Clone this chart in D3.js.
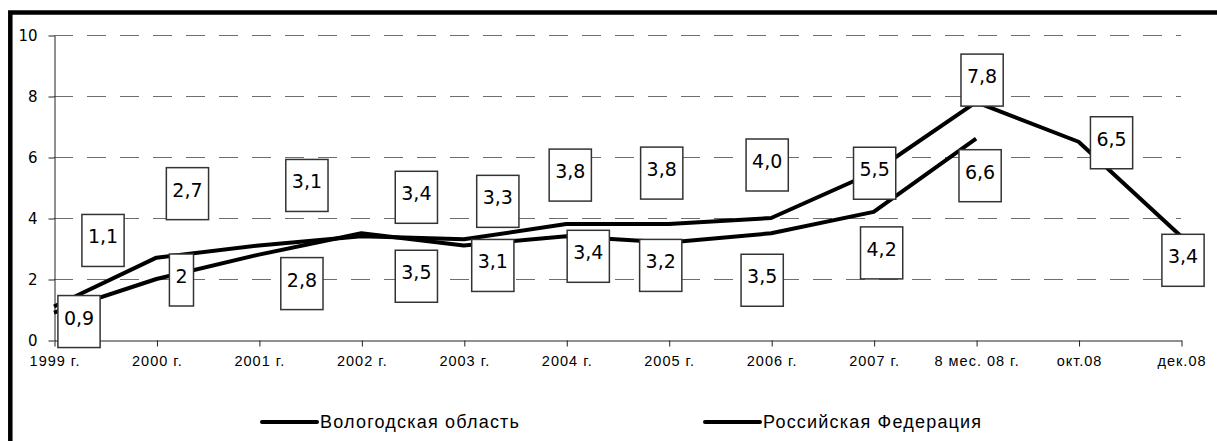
<!DOCTYPE html>
<html>
<head>
<meta charset="utf-8">
<script src="https://cdn.jsdelivr.net/npm/d3@7"></script>
<style>
  body { margin: 0; background: #fff; }
  svg { display: block; }
</style>
</head>
<body>
<svg width="1217" height="441"></svg>
<script>
const categories = ["1999 г.", "2000 г.", "2001 г.", "2002 г.", "2003 г.", "2004 г.",
  "2005 г.", "2006 г.", "2007 г.", "8 мес. 08 г.", "окт.08", "дек.08"];
const vologda = [1.1, 2.7, 3.1, 3.4, 3.3, 3.8, 3.8, 4.0, 5.5, 7.8, 6.5, 3.4];
const russia = [0.9, 2.0, 2.8, 3.5, 3.1, 3.4, 3.2, 3.5, 4.2, 6.6];
const vologdaLabels = ["1,1", "2,7", "3,1", "3,4", "3,3", "3,8", "3,8", "4,0", "5,5", "7,8", "6,5", "3,4"];
const russiaLabels = ["0,9", "2", "2,8", "3,5", "3,1", "3,4", "3,2", "3,5", "4,2", "6,6"];
const yTicks = [0, 2, 4, 6, 8, 10];
const seriesNames = ["Вологодская область", "Российская Федерация"];

// where each label box sits, relative to its point (px)
const vologdaOffsets = [[49, -66], [31, -64], [48, -60], [55, -39], [34, -38], [4, -49],
  [-7, -51], [-4, -53], [1, 1], [6, -22], [33, 1], [2, 24]];
const russiaOffsets = [[25, 9], [25, 1], [43, 29], [55, 43], [29, 20], [22, 20],
  [-8, 23], [-9, 47], [8, 41], [4, 37]];

const svg = d3.select("svg");

// outer frame
svg.append("rect")
  .attr("x", 10.3).attr("y", 12.5)
  .attr("width", 1400).attr("height", 600)
  .attr("fill", "none")
  .attr("stroke", "#000")
  .attr("stroke-width", 4.5);

const x = d3.scalePoint().domain(categories).range([54, 1181]);
const y = d3.scaleLinear().domain([0, 10]).range([340, 35]);

// dashed grid
svg.append("g")
  .selectAll("line")
  .data(yTicks.filter((t) => t > 0))
  .enter()
  .append("line")
  .attr("x1", 54).attr("x2", 1181)
  .attr("y1", (d) => y(d) + 0.5).attr("y2", (d) => y(d) + 0.5)
  .attr("stroke", "#6e6e6e")
  .attr("stroke-width", 1)
  .attr("stroke-dasharray", "19,14");

const yAxis = d3.axisLeft(y).tickValues(yTicks).tickSize(6).tickSizeOuter(0).tickPadding(11).tickFormat(d3.format("d"));
const xAxis = d3.axisBottom(x).tickSize(6).tickSizeOuter(0).tickPadding(9);

const yAxisGroup = svg.append("g").attr("transform", "translate(54.5,0.5)").call(yAxis);
yAxisGroup.selectAll("text")
  .attr("font-family", "DejaVu Sans").attr("font-size", 15).attr("fill", "#000");

const xAxisGroup = svg.append("g").attr("transform", "translate(0.5,340.5)").call(xAxis);
xAxisGroup.selectAll("text")
  .attr("font-family", "Liberation Sans").attr("font-size", 14.5)
  .attr("letter-spacing", 1).attr("fill", "#000");

svg.selectAll(".domain, .tick line").attr("stroke", "#222");

// lines
const line = d3.line()
  .x((d, i) => x(categories[i]))
  .y((d) => y(d));

[vologda, russia].forEach((series) => {
  svg.append("path")
    .datum(series)
    .attr("d", line)
    .attr("fill", "none")
    .attr("stroke", "#000")
    .attr("stroke-width", 4)
    .attr("stroke-linejoin", "round");
});

// value label boxes
function drawLabels(series, labels, offsets) {
  const g = svg.append("g");
  series.forEach((v, i) => {
    const cx = x(categories[i]) + offsets[i][0];
    const cy = y(v) + offsets[i][1];
    const box = g.append("rect");
    const txt = g.append("text")
      .attr("x", cx).attr("y", cy + 3)
      .attr("text-anchor", "middle")
      .attr("font-family", "DejaVu Sans")
      .attr("font-size", 19)
      .attr("fill", "#000")
      .text(labels[i]);
    const w = txt.node().getComputedTextLength() + 12;
    box.attr("x", cx - w / 2).attr("y", cy - 26)
      .attr("width", w).attr("height", 52)
      .attr("fill", "#fff")
      .attr("stroke", "#333")
      .attr("stroke-width", 1.5);
  });
}
drawLabels(vologda, vologdaLabels, vologdaOffsets);
drawLabels(russia, russiaLabels, russiaOffsets);

// legend
const legendX = [262, 705];
const legend = svg.append("g");
seriesNames.forEach((name, i) => {
  legend.append("line")
    .attr("x1", legendX[i]).attr("x2", legendX[i] + 55)
    .attr("y1", 422).attr("y2", 422)
    .attr("stroke", "#000")
    .attr("stroke-width", 4)
    .attr("stroke-linecap", "round");
  legend.append("text")
    .attr("x", legendX[i] + 58).attr("y", 428)
    .attr("font-family", "Liberation Sans")
    .attr("font-size", 18)
    .attr("letter-spacing", 1.2)
    .attr("fill", "#000")
    .text(name);
});
</script>
</body>
</html>
